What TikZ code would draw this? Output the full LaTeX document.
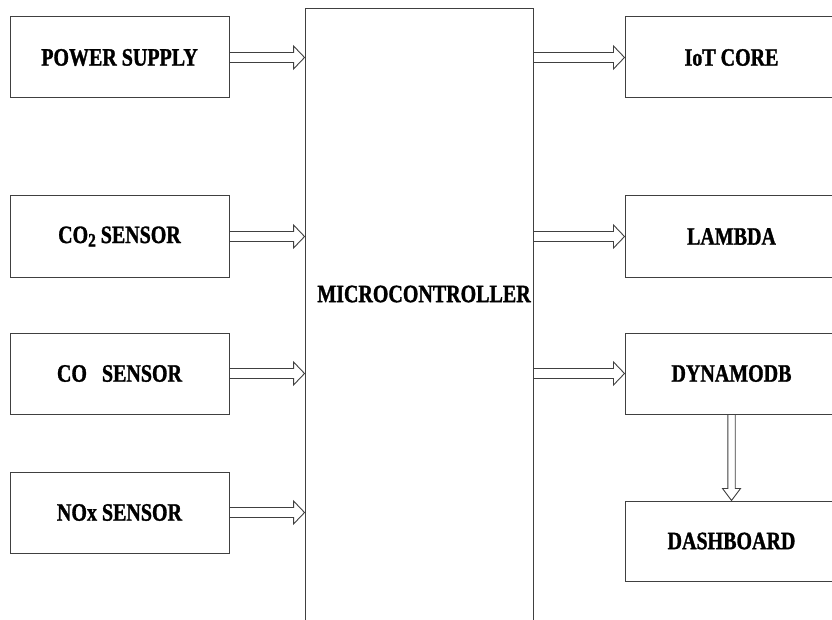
\documentclass[tikz,border=0pt]{standalone}
\usepackage{fontspec}
\setmainfont{Liberation Serif}[FakeStretch=0.8, BoldFeatures={FakeBold=1.2}]
\usetikzlibrary{calc}
\begin{document}
\begin{tikzpicture}[x=1pt,y=-1pt,
  box/.style={draw=black!75, line width=1pt, rectangle, inner sep=0pt,
    font=\fontsize{25}{30}\selectfont\bfseries},
  lbox/.style={box, minimum width=219pt, minimum height=81pt},
  rbox/.style={box, minimum width=213pt, minimum height=81pt},
  lbl/.style={inner sep=0pt, font=\fontsize{25}{30}\selectfont\bfseries},
  hollow/.style n args={3}{draw=black!75, line width=0.9pt, line join=miter,
    to path={
      ($(\tikztotarget)!#3!(\tikztostart)$) coordinate (hb)
      ($(\tikztostart)!#1!90:(\tikztotarget)$)
      -- ($(hb)!#1!90:(\tikztotarget)$)
      -- ($(hb)!#2!90:(\tikztotarget)$)
      -- (\tikztotarget)
      -- ($(hb)!#2!-90:(\tikztotarget)$)
      -- ($(hb)!#1!-90:(\tikztotarget)$)
      -- ($(\tikztostart)!#1!-90:(\tikztotarget)$)
    }}]
\useasboundingbox[fill=white] (0,0) rectangle (832,620);

% left column
\node[lbox] (ps)  at (119.5,57.5)  {POWER SUPPLY};
\node[lbox] (co2) at (119.5,236.5) {CO\raisebox{-3.5pt}{\fontsize{19}{20}\selectfont 2} SENSOR};
\node[lbox] (co)  at (119.5,373.5) {CO\ \ \ SENSOR};
\node[lbox] (nox) at (119.5,512.5) {NOx SENSOR};

% microcontroller
\node[draw=black!75, line width=0.9pt, rectangle, inner sep=0pt,
      minimum width=228pt, minimum height=642pt] (mc) at (419,329) {};
\node[lbl] (mclabel) at (424,294) {MICROCONTROLLER};

% right column
\node[rbox] (iot)  at (731.5,57.5)  {IoT CORE};
\node[rbox] (lam)  at (731.5,236.5) {LAMBDA};
\node[rbox] (dyn)  at (731.5,373.5) {DYNAMODB};
\node[rbox, minimum height=80pt] (dash) at (731.5,541) {DASHBOARD};

% arrows
\draw[hollow={5pt}{11.5pt}{11pt}] (ps.east)  to (ps.east -| mc.west);
\draw[hollow={5pt}{11.5pt}{11pt}] (co2.east) to (co2.east -| mc.west);
\draw[hollow={5pt}{11.5pt}{11pt}] (co.east)  to (co.east -| mc.west);
\draw[hollow={5pt}{11.5pt}{11pt}] (nox.east) to (nox.east -| mc.west);
\draw[hollow={5pt}{11.5pt}{11pt}] (iot.west -| mc.east) to (iot.west);
\draw[hollow={5pt}{11.5pt}{11pt}] (lam.west -| mc.east) to (lam.west);
\draw[hollow={5pt}{11.5pt}{11pt}] (dyn.west -| mc.east) to (dyn.west);
\draw[hollow={3.7pt}{9pt}{12pt}] (dyn.south) to (dash.north);
\end{tikzpicture}
\end{document}
